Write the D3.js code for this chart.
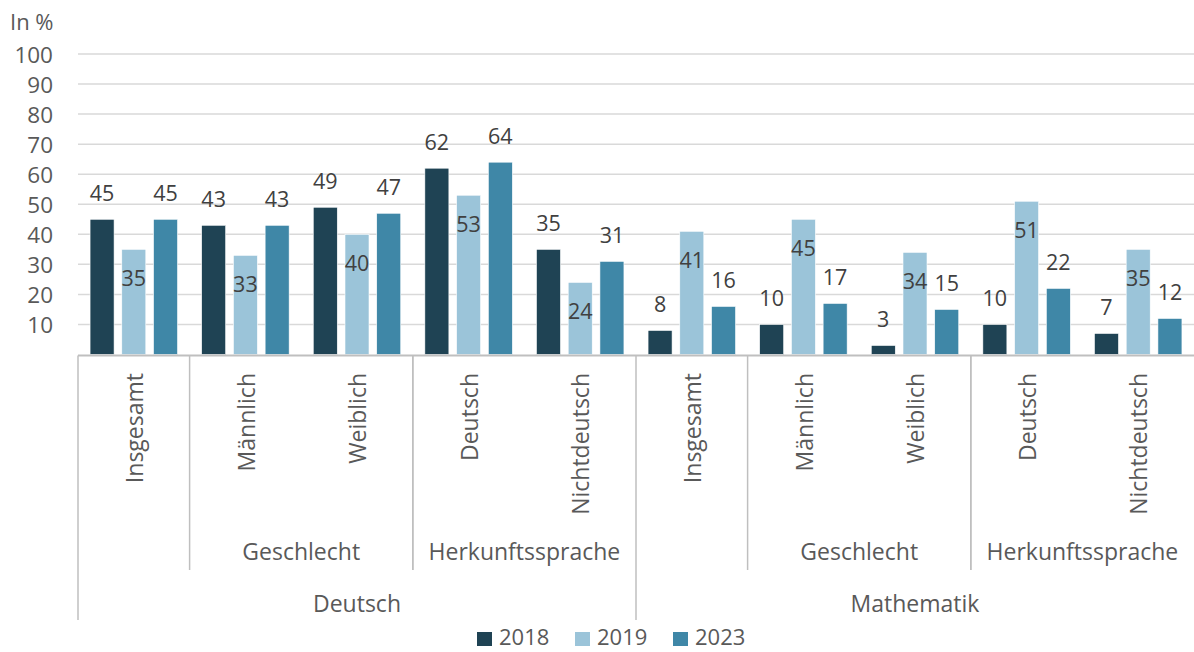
<!DOCTYPE html>
<html><head><meta charset="utf-8">
<script src="https://cdn.jsdelivr.net/npm/d3@7"></script>
<style>
html,body{margin:0;padding:0;background:#fff;}
svg{display:block;font-family:"Open Sans",sans-serif;}
</style></head>
<body><svg id="c" width="1194" height="652"></svg>
<script>
const years = ["2018","2019","2023"];
const categories = ["Insgesamt","Männlich","Weiblich","Deutsch","Nichtdeutsch","Insgesamt","Männlich","Weiblich","Deutsch","Nichtdeutsch"];
const subgroups = [{label:"Geschlecht", from:1, to:2},{label:"Herkunftssprache", from:3, to:4},{label:"Geschlecht", from:6, to:7},{label:"Herkunftssprache", from:8, to:9}];
const subjects = [{label:"Deutsch", from:0, to:4},{label:"Mathematik", from:5, to:9}];
const values2018 = [45,43,49,62,35,8,10,3,10,7];
const values2019 = [35,33,40,53,24,41,45,34,51,35];
const values2023 = [45,43,47,64,31,16,17,15,22,12];
const yTicks = [10,20,30,40,50,60,70,80,90,100];
const colors = {"2018":"#1F4354","2019":"#9BC4D9","2023":"#3F87A7"};

const series = {"2018":values2018,"2019":values2019,"2023":values2023};
const svg = d3.select("#c");
const left = 78, right = 1194, y0px = 354.5, y100px = 54;
const textColor = "#595959";

const x = d3.scaleBand().domain(d3.range(categories.length)).range([left,right]).paddingInner(0).paddingOuter(0);
const xi = d3.scaleBand().domain(years).range([0,x.bandwidth()]).paddingInner(0.243).paddingOuter(0.38);
const y = d3.scaleLinear().domain([0,100]).range([y0px,y100px]);

// gridlines
svg.append("g").selectAll("line").data(yTicks).join("line")
  .attr("x1",left).attr("x2",right)
  .attr("y1",d=>y(d)).attr("y2",d=>y(d))
  .attr("stroke","#D9D9D9").attr("stroke-width",1.5);

// y axis labels
const yAxis = d3.axisLeft(y).tickValues(yTicks).tickSize(0).tickPadding(0);
const ya = svg.append("g").attr("transform","translate(53,0)").call(yAxis);
ya.select(".domain").remove();
ya.selectAll("text").attr("fill",textColor).style("font-size","22.5px").style("font-family","Open Sans").attr("dy","0.36em");

svg.append("text").attr("x",10).attr("y",30).attr("fill",textColor).style("font-size","22px").text("In %");

// bars
const flat = [];
categories.forEach((c,i)=>years.forEach(yr=>flat.push({i,yr,v:series[yr][i]})));
svg.append("g").selectAll("rect").data(flat).join("rect")
  .attr("x",d=>x(d.i)+xi(d.yr))
  .attr("width",xi.bandwidth())
  .attr("y",d=>y(d.v))
  .attr("height",d=>y(0)-y(d.v))
  .attr("fill",d=>colors[d.yr])
  .attr("stroke","#fff").attr("stroke-width",0.6);

// value labels
svg.append("g").selectAll("text").data(flat).join("text")
  .attr("x",d=>x(d.i)+xi(d.yr)+xi.bandwidth()/2)
  .attr("y",d=> d.yr==="2019" ? y(d.v)+29 : y(d.v)-26)
  .attr("dy","0.36em")
  .attr("text-anchor","middle")
  .attr("fill","#404040")
  .style("font-size","21.5px")
  .text(d=>d.v);

// axis line
svg.append("line").attr("x1",left).attr("x2",right).attr("y1",y0px+1).attr("y2",y0px+1)
  .attr("stroke","#BFBFBF").attr("stroke-width",2);

// category separators
const sepColor = "#BFBFBF";
const seps = [];
subjects.forEach(s=>seps.push({x:x(s.from), y2:620}));
subgroups.forEach(s=>seps.push({x:x(s.from), y2:570}));
subgroups.forEach(s=>{ if (!subjects.some(t=>t.to===s.to) && s.to+1<categories.length) seps.push({x:x(s.to+1), y2:570}); });
svg.append("g").selectAll("line").data(seps).join("line")
  .attr("x1",d=>d.x).attr("x2",d=>d.x).attr("y1",y0px+1).attr("y2",d=>d.y2)
  .attr("stroke",sepColor).attr("stroke-width",1.5);

// category labels (rotated)
svg.append("g").selectAll("text").data(categories).join("text")
  .attr("transform",(d,i)=>`translate(${x(i)+x.bandwidth()/2+1},373) rotate(-90)`)
  .attr("text-anchor","end").attr("dy","0.36em")
  .attr("fill",textColor).style("font-size","23px")
  .text(d=>d);

// subgroup labels
svg.append("g").selectAll("text").data(subgroups).join("text")
  .attr("x",d=>(x(d.from)+x(d.to)+x.bandwidth())/2)
  .attr("y",560).attr("text-anchor","middle")
  .attr("fill",textColor).style("font-size","23px").text(d=>d.label);

// subject labels
svg.append("g").selectAll("text").data(subjects).join("text")
  .attr("x",d=>(x(d.from)+x(d.to)+x.bandwidth())/2)
  .attr("y",612).attr("text-anchor","middle")
  .attr("fill",textColor).style("font-size","23px").text(d=>d.label);

// legend
const lg = svg.append("g");
const legX = d3.scalePoint().domain(years).range([477,673]);
years.forEach(yr=>{
  lg.append("rect").attr("x",legX(yr)).attr("y",632).attr("width",15).attr("height",14).attr("fill",colors[yr]);
  lg.append("text").attr("x",legX(yr)+22).attr("y",645).attr("fill",textColor).style("font-size","22px").text(yr);
});
</script></body></html>
